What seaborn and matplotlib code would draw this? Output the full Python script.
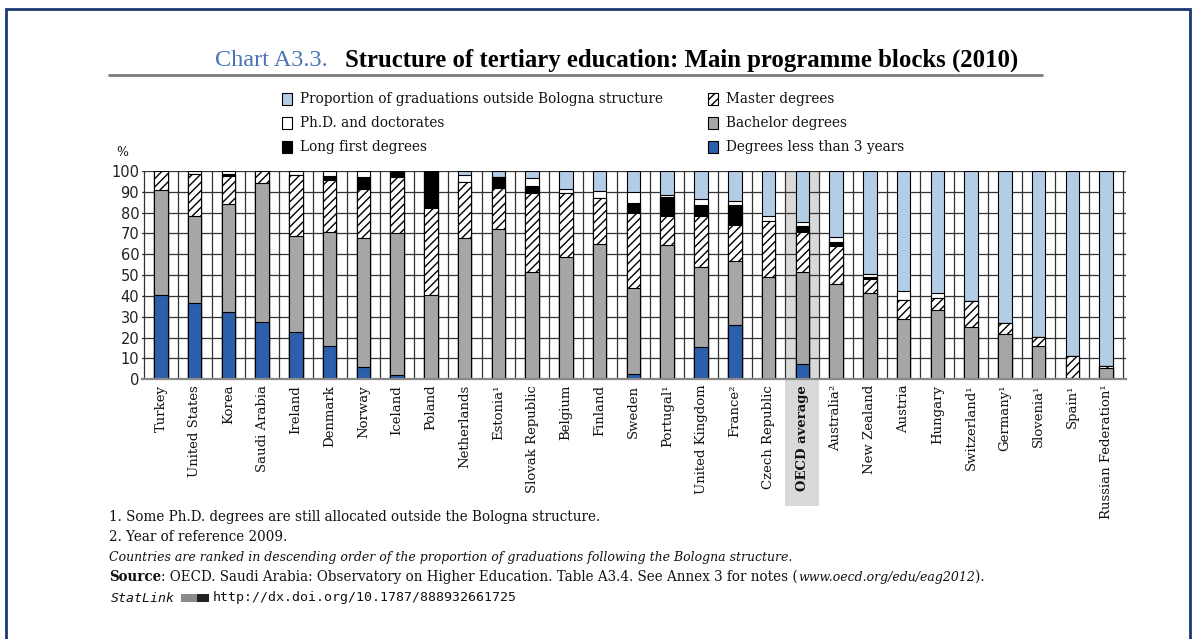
import numpy as np
import pandas as pd
import matplotlib
matplotlib.use("Agg")
import matplotlib.pyplot as plt
import matplotlib.transforms as mtrans
from matplotlib.patches import Rectangle
from matplotlib.lines import Line2D
import seaborn as sns

# ---------------- data ----------------
countries = ["Turkey", "United States", "Korea", "Saudi Arabia", "Ireland", "Denmark",
             "Norway", "Iceland", "Poland", "Netherlands", "Estonia\u00b9", "Slovak Republic",
             "Belgium", "Finland", "Sweden", "Portugal\u00b9", "United Kingdom", "France\u00b2",
             "Czech Republic", "OECD average", "Australia\u00b2", "New Zealand", "Austria",
             "Hungary", "Switzerland\u00b9", "Germany\u00b9", "Slovenia\u00b9", "Spain\u00b9",
             "Russian Federation\u00b9"]
less3 = [40.5, 36.5, 32.5, 27.7, 22.9, 16.2, 5.8, 2.0, 0, 0, 0, 0, 0, 0, 2.6, 0, 15.7, 26.1,
         0, 7.2, 0, 0, 0, 0, 0, 0, 0, 0, 0]
bachelor = [50.5, 42.0, 51.7, 66.4, 45.9, 54.7, 62.0, 68.0, 40.6, 68.0, 72.0, 51.7, 58.6, 64.8,
            41.1, 64.3, 38.4, 30.9, 49.3, 44.5, 45.6, 41.3, 28.8, 33.3, 25.3, 21.8, 16.2, 0.5, 5.3]
master = [9.0, 20.0, 13.2, 5.9, 29.1, 24.8, 23.4, 27.3, 41.8, 26.9, 20.0, 37.9, 31.0, 22.1,
          36.3, 14.1, 24.3, 17.1, 26.9, 19.2, 18.4, 6.7, 9.3, 5.9, 12.5, 5.1, 4.3, 10.7, 1.1]
long_first = [0, 0, 1.3, 0, 0, 2.1, 5.8, 2.7, 17.6, 0, 5.0, 3.4, 0, 0, 4.5, 9.3, 5.3, 9.6,
              0, 2.9, 2.1, 1.3, 0, 0, 0, 0, 0, 0, 0]
phd = [0, 1.5, 1.3, 0, 2.1, 2.2, 3.0, 0, 0, 3.2, 0, 3.5, 1.8, 3.7, 5.5, 0.8, 2.7, 2.1,
       2.2, 1.6, 2.1, 1.3, 4.3, 2.1, 0, 0, 0, 0, 0]
outside = [0, 0, 0, 0, 0, 0, 0, 0, 0, 1.9, 3.0, 3.5, 8.6, 9.4, 10.0, 11.5, 13.6, 14.2,
           21.6, 24.6, 31.8, 49.4, 57.6, 58.7, 62.2, 73.1, 79.5, 88.8, 93.6]
yticks = [0, 10, 20, 30, 40, 50, 60, 70, 80, 90, 100]

series_names = ["Degrees less than 3 years", "Bachelor degrees", "Master degrees",
                "Long first degrees", "Ph.D. and doctorates",
                "Proportion of graduations outside Bologna structure"]
series_vals = [less3, bachelor, master, long_first, phd, outside]
colors = ["#2c5fab", "#a6a6a9", "white", "black", "white", "#b4cde6"]
hatches = ["", "", "////", "", "", ""]

# ---------------- style ----------------
sns.set_style("white")
plt.rcParams["hatch.linewidth"] = 1.0
plt.rcParams["hatch.color"] = "black"

W, H = 1196, 639
fig = plt.figure(figsize=(W / 100, H / 100), dpi=100)
fig.patch.set_facecolor("white")

def fx(px):
    return px / W

def fy(py):
    return 1 - py / H

ax = fig.add_axes([fx(142), fy(379.3), fx(1126) - fx(142), fy(171) - fy(379.3)])

n = len(countries)
cum = np.cumsum(np.array(series_vals, dtype=float), axis=0)

# draw stacked bars back to front (cumulative totals)
for k in range(len(series_vals) - 1, -1, -1):
    df = pd.DataFrame({"country": countries, "value": cum[k]})
    sns.barplot(data=df, x="country", y="value", order=countries, color=colors[k],
                saturation=1, width=0.4, edgecolor="black", linewidth=0.8,
                hatch=hatches[k] if hatches[k] else None, errorbar=None, ax=ax)

ax.set_xlim(-0.56, n - 1 + 0.59)
ax.set_ylim(0, 100)
ax.set_xlabel("")
ax.set_ylabel("")
ax.set_yticks(yticks)
ax.set_yticklabels([str(v) for v in yticks], fontfamily="DejaVu Sans", fontsize=10.5,
                   color="#222222")
ax.set_xticks(range(n))
ax.set_xticklabels(countries, rotation=90, fontfamily="DejaVu Serif", fontsize=9.5,
                   color="#111111")
oecd_idx = countries.index("OECD average")
ax.get_xticklabels()[oecd_idx].set_fontweight("bold")
ax.set_xticks(np.arange(-0.5, n, 1.0), minor=True)
ax.tick_params(which="both", length=0)
ax.tick_params(axis="y", pad=2)
ax.tick_params(axis="x", pad=4)
ax.set_axisbelow(True)
ax.grid(which="major", axis="y", color="#333333", lw=0.9)
ax.grid(which="minor", axis="x", color="#333333", lw=0.9)
ax.grid(which="major", axis="x", visible=False)
for s in ["top", "right", "left"]:
    ax.spines[s].set_visible(False)
ax.spines["bottom"].set_color("#888888")
ax.spines["bottom"].set_linewidth(1.6)

# OECD shaded band
trans = mtrans.blended_transform_factory(ax.transData, ax.transAxes)
ax.add_patch(Rectangle((oecd_idx - 0.5, -0.606), 1.0, 1.606, transform=trans,
                       facecolor="#d9d9d9", edgecolor="none", zorder=0.1, clip_on=False))

# ---------------- title ----------------
fig.text(fx(215), fy(60), "Chart A3.3.", fontfamily="Liberation Serif", fontsize=17.5,
         color="#4a74b8", va="center", ha="left")
fig.text(fx(345), fy(60), "Structure of tertiary education: Main programme blocks (2010)",
         fontfamily="Liberation Serif", fontsize=17.8, fontweight="bold", color="black",
         va="center", ha="left")
fig.add_artist(Line2D([fx(109), fx(1042)], [fy(75), fy(75)], color="#7a7a7a", lw=2))

# ---------------- legend ----------------
legend_items = [
    (282, 99, 5), (282, 123, 4), (282, 147, 3),
    (708, 99, 2), (708, 123, 1), (708, 147, 0),
]
for hx, hy, k in legend_items:
    fig.add_artist(Rectangle((fx(hx), fy(hy + 5.5)), 10 / W, 11 / H, transform=fig.transFigure,
                             facecolor=colors[k], edgecolor="black", lw=0.8,
                             hatch=hatches[k] if hatches[k] else None))
    fig.text(fx(hx + 18), fy(hy), series_names[k], fontfamily="DejaVu Serif",
             fontsize=9.85, va="center", ha="left", color="#111111")

fig.text(fx(122), fy(153), "%", fontfamily="DejaVu Serif", fontsize=9, va="center",
         ha="center", color="#111111")

# ---------------- footnotes ----------------
fig.canvas.draw()
renderer = fig.canvas.get_renderer()

def seq_text(x0, y, parts):
    x = x0
    for txt, kw in parts:
        t = fig.text(fx(x), fy(y), txt, va="center", ha="left", color="#111111", **kw)
        bb = t.get_window_extent(renderer=renderer)
        x += bb.width

base = dict(fontfamily="DejaVu Serif", fontsize=9.75)
seq_text(109, 517, [("1. Some Ph.D. degrees are still allocated outside the Bologna structure.", base)])
seq_text(109, 537, [("2. Year of reference 2009.", base)])
seq_text(109, 557, [("Countries are ranked in descending order of the proportion of graduations "
                     "following the Bologna structure.", dict(base, fontsize=9.0, fontstyle="italic"))])
seq_text(109, 577, [("Source", dict(base, fontweight="bold")),
                    (": OECD. Saudi Arabia: Observatory on Higher Education. Table A3.4. "
                     "See Annex 3 for notes (", base),
                    ("www.oecd.org/edu/eag2012", dict(base, fontsize=9.0, fontstyle="italic")),
                    (").", base)])
mono = dict(fontfamily="DejaVu Sans Mono", fontsize=9.5)
fig.text(fx(111), fy(598), "StatLink", va="center", ha="left", color="#111111",
         fontstyle="oblique", **mono)
fig.text(fx(213), fy(598), "http://dx.doi.org/10.1787/888932661725", va="center",
         ha="left", color="#111111", **mono)
fig.add_artist(Rectangle((fx(181), fy(602)), 28 / W, 8 / H, transform=fig.transFigure,
                         facecolor="#8a8a8a", edgecolor="none"))
fig.add_artist(Rectangle((fx(197), fy(602)), 12 / W, 8 / H, transform=fig.transFigure,
                         facecolor="#222222", edgecolor="none"))

# ---------------- frame ----------------
fig.add_artist(Rectangle((fx(6), -0.05), fx(1190) - fx(6), fy(9) + 0.05,
                         transform=fig.transFigure, fill=False, edgecolor="#1c3870", lw=2))

fig.savefig("out.png", dpi=100, facecolor="white")
